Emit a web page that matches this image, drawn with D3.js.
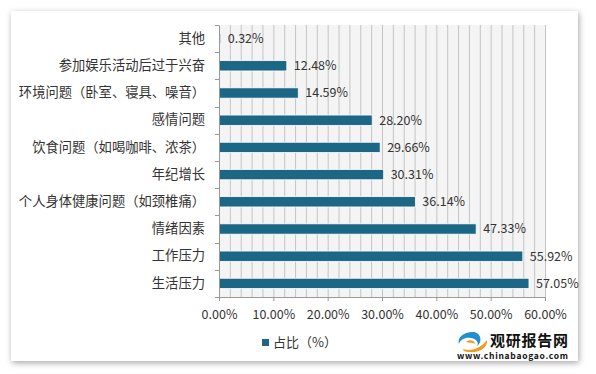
<!DOCTYPE html>
<html>
<head>
<meta charset="utf-8">
<script src="https://cdn.jsdelivr.net/npm/d3@7"></script>
<style>
  body { margin: 0; background: #fff; }
  svg text { font-family: "Microsoft YaHei", "Noto Sans CJK SC", sans-serif; }
</style>
</head>
<body>
<svg id="chart"></svg>
<script>
const categories = ['其他', '参加娱乐活动后过于兴奋', '环境问题（卧室、寝具、噪音）', '感情问题',
  '饮食问题（如喝咖啡、浓茶）', '年纪增长', '个人身体健康问题（如颈椎痛）', '情绪因素', '工作压力', '生活压力'];
const values = [0.32, 12.48, 14.59, 28.20, 29.66, 30.31, 36.14, 47.33, 55.92, 57.05];
const xTicks = [0, 10, 20, 30, 40, 50, 60];
const seriesName = '占比（%）';

const width = 596, height = 374;
const margin = { top: 25, right: 51, bottom: 77, left: 219 };

const svg = d3.select('#chart').attr('width', width).attr('height', height);

// panel with shadow
const defs = svg.append('defs');
const f = defs.append('filter').attr('id', 'shadow').attr('x', -0.1).attr('y', -0.1).attr('width', 1.2).attr('height', 1.2);
f.append('feGaussianBlur').attr('in', 'SourceAlpha').attr('stdDeviation', 3);
f.append('feOffset').attr('dx', 1).attr('dy', 2).attr('result', 'b');
f.append('feComponentTransfer').append('feFuncA').attr('type', 'linear').attr('slope', 0.35);
const fm = f.append('feMerge');
fm.append('feMergeNode');
fm.append('feMergeNode').attr('in', 'SourceGraphic');

svg.append('rect').attr('x', 11).attr('y', 11).attr('width', 567).attr('height', 350)
  .attr('fill', '#fff').attr('filter', 'url(#shadow)');

const x = d3.scaleLinear().domain([0, 60]).range([margin.left, width - margin.right]);
const y = d3.scaleBand().domain(categories).range([margin.top, height - margin.bottom]).paddingInner(0.62).paddingOuter(0.31);

// plot background
svg.append('rect').attr('x', x(0)).attr('y', margin.top)
  .attr('width', x(60) - x(0)).attr('height', height - margin.bottom - margin.top)
  .attr('fill', '#f4f4f4');

// gridlines every 2%
svg.append('g').selectAll('line').data(d3.range(2, 61, 2)).join('line')
  .attr('x1', d => x(d) + 0.5).attr('x2', d => x(d) + 0.5)
  .attr('y1', margin.top).attr('y2', height - margin.bottom)
  .attr('stroke', '#c4c4c4').attr('stroke-width', 1);

// bars
svg.append('g').selectAll('rect').data(values).join('rect')
  .attr('x', x(0))
  .attr('y', (d, i) => y(categories[i]))
  .attr('width', d => x(d) - x(0))
  .attr('height', y.bandwidth())
  .attr('fill', '#1c6686')
  .attr('stroke', '#ffffff').attr('stroke-width', 0.8);

// value labels
svg.append('g').selectAll('text').data(values).join('text')
  .attr('x', d => x(d) + 7)
  .attr('y', (d, i) => y(categories[i]) + y.bandwidth() / 2)
  .attr('dy', '0.35em')
  .attr('font-size', 12.5).attr('fill', '#333')
  .text(d => d.toFixed(2) + '%');

// x axis
const xAxis = svg.append('g')
  .attr('transform', `translate(0,${height - margin.bottom})`)
  .call(d3.axisBottom(x).tickValues(xTicks).tickFormat(d => d.toFixed(2) + '%').tickSize(4).tickSizeOuter(0));
xAxis.select('.domain').attr('stroke', '#999');
xAxis.selectAll('.tick line').attr('stroke', '#999');
xAxis.selectAll('.tick text').attr('font-size', 12.5).attr('fill', '#333').attr('dy', '1.2em')
  .style('font-family', '"Microsoft YaHei", "Noto Sans CJK SC", sans-serif');

// y axis
const yAxis = svg.append('g')
  .attr('transform', `translate(${x(0)},0)`)
  .call(d3.axisLeft(y).tickSize(0).tickPadding(14));
yAxis.select('.domain').attr('stroke', '#999');
yAxis.selectAll('.tick text').attr('font-size', 13.3).attr('fill', '#333')
  .style('font-family', '"Microsoft YaHei", "Noto Sans CJK SC", sans-serif');

// category boundary ticks
const step = y.step();
svg.append('g').selectAll('line').data(d3.range(categories.length + 1)).join('line')
  .attr('x1', x(0) - 4).attr('x2', x(0))
  .attr('y1', i => Math.round(margin.top + i * step) + 0.5)
  .attr('y2', i => Math.round(margin.top + i * step) + 0.5)
  .attr('stroke', '#999');

// legend
const lg = svg.append('g').attr('transform', 'translate(262,342)');
lg.append('rect').attr('x', 0).attr('y', -3).attr('width', 7).attr('height', 7).attr('fill', '#1c6686');
lg.append('text').attr('x', 11).attr('y', 0).attr('dy', '0.35em')
  .attr('font-size', 13).attr('fill', '#333').text(seriesName);

// logo
const logo = svg.append('g').attr('transform', 'translate(457,330)');
logo.append('path').attr('d', 'M16,2 C6,2 0,8 2,14 C3,10 8,7 14,8 C20,9 22,13 20,16 C26,12 24,2 16,2 Z').attr('fill', '#1f8fd0');
logo.append('path').attr('d', 'M6,19 C14,22 24,18 30,10 C31,18 22,23 12,22 C8,22 6,21 6,19 Z').attr('fill', '#f39a1d');
logo.append('path').attr('d', 'M9,12 C12,9 18,10 18,14 C15,12 12,13 9,12 Z').attr('fill', '#f39a1d');
logo.append('text').attr('x', 33).attr('y', 16).attr('font-size', 15).attr('font-weight', 'bold')
  .attr('fill', '#111').attr('textLength', 78).text('观研报告网');
logo.append('text').attr('x', 0).attr('y', 29).attr('font-size', 8.5).attr('font-weight', 'bold')
  .attr('fill', '#111').attr('textLength', 111).text('www.chinabaogao.com');
</script>
</body>
</html>
